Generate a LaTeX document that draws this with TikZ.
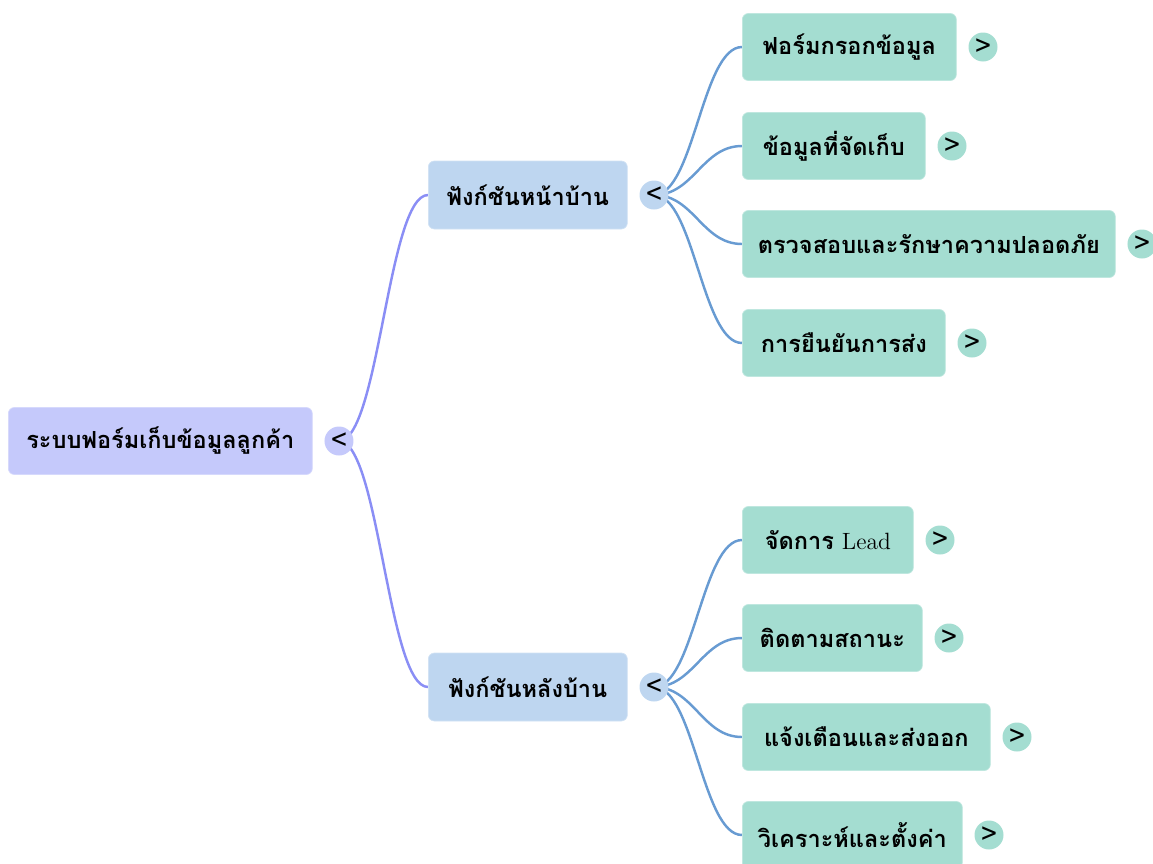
\documentclass[tikz,border=0pt]{standalone}
\usepackage{fontspec}
\newfontfamily\thaifont[Script=Thai]{Loma}
\usepackage{tikz}
\usetikzlibrary{
  positioning,
  backgrounds
}
\definecolor{RootLilac}{RGB}{197,201,251}
\definecolor{BranchBlue}{RGB}{190,214,240}
\definecolor{LeafMint}{RGB}{164,221,209}
\definecolor{RootLine}{RGB}{138,142,245}
\definecolor{BranchLine}{RGB}{104,155,210}
\tikzset{
  rootnode/.style={draw=RootLilac!70!white,fill=RootLilac,rounded corners=1.2mm,minimum height=1.34cm,anchor=west,align=center,font=\thaifont\bfseries\fontsize{13.4}{15}\selectfont},
  branchnode/.style={draw=BranchBlue!70!white,fill=BranchBlue,rounded corners=1.2mm,minimum height=1.36cm,anchor=west,align=center,font=\thaifont\bfseries\fontsize{13.4}{15}\selectfont},
  leafnode/.style={draw=LeafMint!70!white,fill=LeafMint,rounded corners=1.2mm,minimum height=1.34cm,anchor=west,align=center,font=\thaifont\bfseries\fontsize{13.4}{15}\selectfont},
  toggle/.style={circle,inner sep=0pt,minimum size=0.58cm,font=\thaifont\fontsize{16}{18}\selectfont,right=0.23cm of #1},
  rootedge/.style={line width=1.4pt,draw=RootLine},
  branchedge/.style={line width=1.4pt,draw=BranchLine}
}

\begin{document}
\begin{tikzpicture}[x=0.02cm,y=-0.02cm]
\useasboundingbox (0,0) rectangle (1153,863);

\node[rootnode, minimum width=6.08cm] (sys) at (8,441) {ระบบฟอร์มเก็บข้อมูลลูกค้า};
\node[toggle=sys, fill=RootLilac] (sysc) {<};

\node[branchnode, minimum width=3.98cm] (front) at (428,195) {ฟังก์ชันหน้าบ้าน};
\node[toggle=front, fill=BranchBlue] (frontc) {<};
\node[branchnode, minimum width=3.98cm] (back) at (428,687) {ฟังก์ชันหลังบ้าน};
\node[toggle=back, fill=BranchBlue] (backc) {<};

\node[leafnode, minimum width=4.28cm] (f1) at (742,47) {ฟอร์มกรอกข้อมูล};
\node[toggle=f1, fill=LeafMint] (f1c) {>};
\node[leafnode, minimum width=3.66cm] (f2) at (742,146) {ข้อมูลที่จัดเก็บ};
\node[toggle=f2, fill=LeafMint] (f2c) {>};
\node[leafnode, minimum width=7.46cm] (f3) at (742,244) {ตรวจสอบและรักษาความปลอดภัย};
\node[toggle=f3, fill=LeafMint] (f3c) {>};
\node[leafnode, minimum width=4.06cm] (f4) at (742,343) {การยืนยันการส่ง};
\node[toggle=f4, fill=LeafMint] (f4c) {>};

\node[leafnode, minimum width=3.42cm] (b1) at (742,540) {จัดการ {\normalfont Lead}};
\node[toggle=b1, fill=LeafMint] (b1c) {>};
\node[leafnode, minimum width=3.60cm] (b2) at (742,638) {ติดตามสถานะ};
\node[toggle=b2, fill=LeafMint] (b2c) {>};
\node[leafnode, minimum width=4.96cm] (b3) at (742,737) {แจ้งเตือนและส่งออก};
\node[toggle=b3, fill=LeafMint] (b3c) {>};
\node[leafnode, minimum width=4.40cm] (b4) at (742,835) {วิเคราะห์และตั้งค่า};
\node[toggle=b4, fill=LeafMint] (b4c) {>};

% links sit behind the toggles
\begin{scope}[on background layer]
\draw[rootedge] (sysc.center) .. controls +(40,0) and +(-40,0) .. (front.west);
\draw[rootedge] (sysc.center) .. controls +(40,0) and +(-40,0) .. (back.west);

\draw[branchedge] (frontc.center) .. controls +(40,0) and +(-40,0) .. (f1.west);
\draw[branchedge] (frontc.center) .. controls +(40,0) and +(-40,0) .. (f2.west);
\draw[branchedge] (frontc.center) .. controls +(40,0) and +(-40,0) .. (f3.west);
\draw[branchedge] (frontc.center) .. controls +(40,0) and +(-40,0) .. (f4.west);

\draw[branchedge] (backc.center) .. controls +(40,0) and +(-40,0) .. (b1.west);
\draw[branchedge] (backc.center) .. controls +(40,0) and +(-40,0) .. (b2.west);
\draw[branchedge] (backc.center) .. controls +(40,0) and +(-40,0) .. (b3.west);
\draw[branchedge] (backc.center) .. controls +(40,0) and +(-40,0) .. (b4.west);
\end{scope}
\end{tikzpicture}
\end{document}
